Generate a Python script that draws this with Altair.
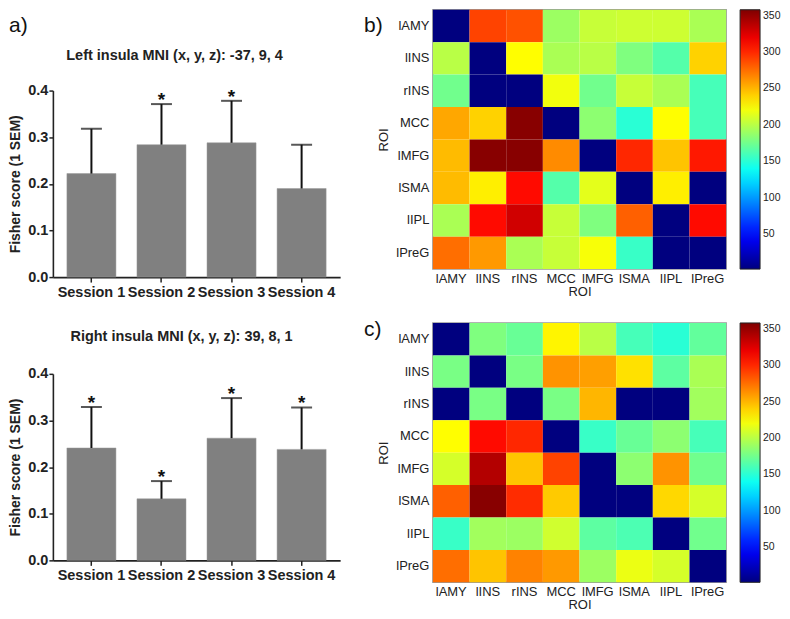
import altair as alt
import pandas as pd

sessions = ["Session 1", "Session 2", "Session 3", "Session 4"]
left_mean = [0.222, 0.284, 0.288, 0.190]
left_upper = [0.318, 0.371, 0.378, 0.284]
left_star = ["", "*", "*", ""]
right_mean = [0.241, 0.132, 0.262, 0.238]
right_upper = [0.329, 0.170, 0.348, 0.328]
right_star = ["*", "*", "*", "*"]

rois = ["lAMY", "lINS", "rINS", "MCC", "lMFG", "lSMA", "lIPL", "lPreG"]
# rows (y) in order of rois, columns (x) in order of rois
heat_b = [
    [2, 290, 285, 190, 205, 207, 207, 195],
    [200, 2, 225, 195, 200, 180, 165, 240],
    [175, 2, 2, 220, 175, 205, 195, 160],
    [255, 240, 355, 2, 185, 150, 225, 160],
    [248, 355, 355, 265, 2, 300, 245, 305],
    [248, 230, 310, 165, 215, 2, 230, 2],
    [195, 310, 330, 205, 180, 280, 2, 310],
    [275, 260, 195, 205, 222, 155, 2, 2],
]
heat_c = [
    [2, 180, 172, 228, 200, 160, 150, 170],
    [178, 2, 178, 262, 258, 235, 168, 195],
    [2, 178, 2, 178, 250, 2, 2, 192],
    [225, 310, 300, 2, 155, 172, 185, 160],
    [210, 340, 245, 290, 2, 185, 262, 175],
    [280, 355, 298, 243, 2, 2, 238, 210],
    [155, 192, 190, 208, 168, 162, 2, 175],
    [275, 245, 268, 260, 190, 218, 210, 2],
]
colorbar_ticks = [50, 100, 150, 200, 250, 300, 350]
title_a = "Left insula MNI (x, y, z): -37, 9, 4"
title_b = "Right insula MNI (x, y, z): 39, 8, 1"

FONT = "Liberation Sans"
jet = ["#00007F", "#0000FF", "#007FFF", "#00FFFF", "#7FFF7F",
       "#FFFF00", "#FF7F00", "#FF0000", "#7F0000"]
cmin, cmax = 2, 358
jet_domain = [cmin + (cmax - cmin) * i / 8 for i in range(9)]

HW, HH = 294, 260  # heatmap size


def header(title, title_x, title_y, height, label=None):
    layers = [alt.Chart(pd.DataFrame({"t": [title]})).mark_text(
        font=FONT, fontSize=14.5, fontWeight="bold", align="center", baseline="middle",
        color="#222").encode(x=alt.value(title_x), y=alt.value(title_y), text="t:N")]
    if label:
        layers.append(alt.Chart(pd.DataFrame({"t": [label]})).mark_text(
            font=FONT, fontSize=21, align="left", baseline="middle", color="#111").encode(
            x=alt.value(-44), y=alt.value(16), text="t:N"))
    return alt.layer(*layers).properties(width=288, height=height)


def bar_chart(mean, upper, star):
    df = pd.DataFrame({"session": sessions, "mean": mean, "upper": upper, "star": star})
    xenc = alt.X("session:N", sort=sessions, title=None,
                 scale=alt.Scale(paddingInner=0.3, paddingOuter=0.2),
                 axis=alt.Axis(labelAngle=0, labelFontSize=14.5, labelFontWeight="bold",
                               labelFont=FONT, labelColor="#222", domainColor="#222",
                               domainWidth=1.6, tickColor="#222", tickWidth=1.5,
                               tickSize=5, labelPadding=3))
    yscale = alt.Scale(domain=[0, 0.4], nice=False)
    base = alt.Chart(df)
    bars = base.mark_bar(color="#808080", stroke="#9a9a9a", strokeWidth=0.5).encode(
        x=xenc,
        y=alt.Y("mean:Q", scale=yscale, title="Fisher score (1 SEM)",
                axis=alt.Axis(values=[0, 0.1, 0.2, 0.3, 0.4], format=".1f", grid=False,
                              labelFontSize=14.5, labelFontWeight="bold", labelFont=FONT,
                              labelColor="#222", titleFont=FONT, titleFontSize=14,
                              titleFontWeight="bold", titleColor="#222", domainColor="#222",
                              domainWidth=1.6, tickColor="#222", tickWidth=1.5, tickSize=4,
                              titlePadding=5, labelPadding=1)),
    )
    err = base.mark_rule(color="#111", strokeWidth=2).encode(
        x=alt.X("session:N", sort=sessions), y="mean:Q", y2="upper:Q")
    cap = base.mark_tick(color="#111", thickness=2, size=21).encode(
        x=alt.X("session:N", sort=sessions), y=alt.Y("upper:Q"))
    stars = base.mark_text(font=FONT, fontSize=19, fontWeight="bold", color="#111",
                           baseline="alphabetic", dy=2).encode(
        x=alt.X("session:N", sort=sessions), y=alt.Y("upper:Q"), text="star:N")
    return alt.layer(bars, err, cap, stars).properties(width=288, height=187)


def heat_chart(mat, label, lab_y):
    rows = []
    for i, r in enumerate(rois):
        for j, c in enumerate(rois):
            rows.append({"row": r, "col": c, "v": mat[i][j]})
    df = pd.DataFrame(rows)
    axis_common = dict(labelFont=FONT, labelFontSize=13, labelColor="#222",
                       titleFont=FONT, titleFontSize=13, titleFontWeight="normal",
                       titleColor="#222", domain=False, ticks=False)
    rect = alt.Chart(df).mark_rect().encode(
        x=alt.X("col:N", sort=rois, title="ROI", scale=alt.Scale(paddingInner=0, paddingOuter=0),
                axis=alt.Axis(labelAngle=0, labelPadding=3, titlePadding=0, **axis_common)),
        y=alt.Y("row:N", sort=rois, title="ROI", scale=alt.Scale(paddingInner=0, paddingOuter=0),
                axis=alt.Axis(labelPadding=4, titlePadding=5, **axis_common)),
        color=alt.Color("v:Q",
                        scale=alt.Scale(domain=jet_domain, range=jet, interpolate="rgb"),
                        legend=alt.Legend(title=None, direction="vertical", orient="none",
                                          legendX=HW + 14, legendY=0,
                                          gradientLength=HH, gradientThickness=20,
                                          gradientStrokeColor="#222", gradientStrokeWidth=1,
                                          values=colorbar_ticks, labelFont=FONT,
                                          labelFontSize=10.5, labelColor="#222",
                                          labelOffset=3, padding=0)),
    )
    lab = alt.Chart(pd.DataFrame({"t": [label]})).mark_text(
        font=FONT, fontSize=21, align="left", baseline="middle", color="#111").encode(
        x=alt.value(-69), y=alt.value(lab_y), text="t:N")
    return alt.layer(rect, lab).properties(
        width=HW, height=HH, view=alt.ViewBackground(stroke="#999", strokeWidth=1.5))


headA = header(title_a, 122, 46, 73, "a)")
barA = bar_chart(left_mean, left_upper, left_star)
headB = header(title_b, 129, 38, 67)
barB = bar_chart(right_mean, right_upper, right_star)
heatB = heat_chart(heat_b, "b)", 16).resolve_scale(color="independent")
heatC = heat_chart(heat_c, "c)", 7).resolve_scale(color="independent")

left = alt.vconcat(headA, barA, headB, barB, spacing=0)
right = alt.vconcat(heatB, heatC, spacing=19).resolve_scale(color="independent").resolve_legend(color="independent")

chart = alt.hconcat(left, right, spacing=23).resolve_scale(color="independent").resolve_legend(
    color="independent").properties(padding=0).configure_view(stroke=None)

chart.save("out.html", embed_options={"renderer": "svg", "actions": False})
